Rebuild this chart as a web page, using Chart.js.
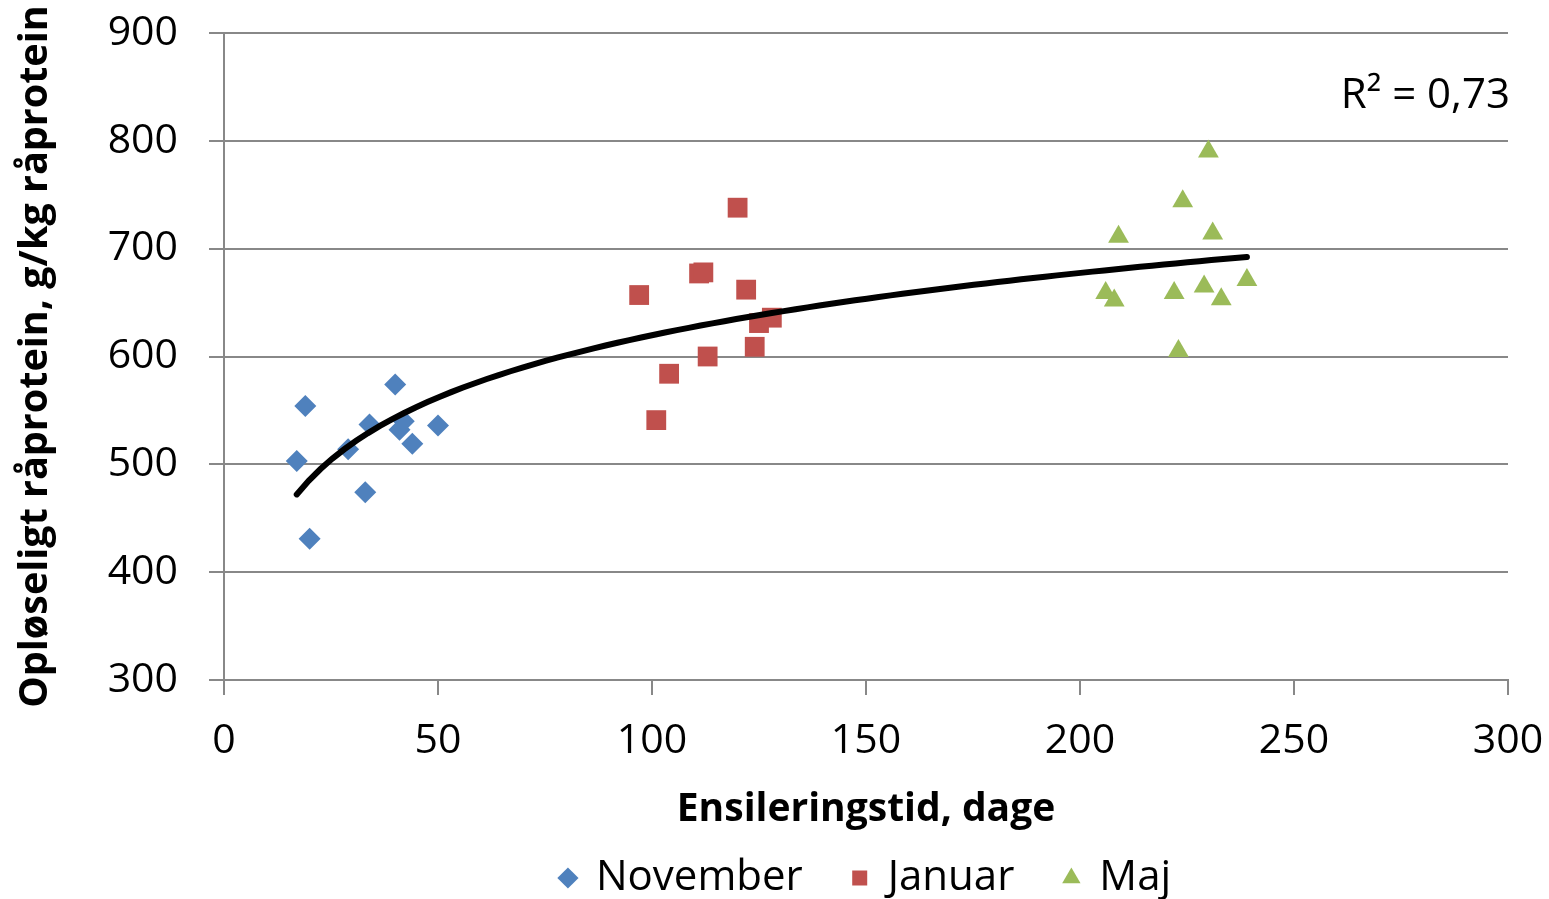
<!DOCTYPE html>
<html lang="da">
<head>
<meta charset="utf-8">
<title>Opløseligt råprotein</title>
<script src="https://cdn.jsdelivr.net/npm/chart.js@4/dist/chart.umd.min.js"></script>
<style>
  html, body { margin: 0; padding: 0; background: #fff; }
  #wrap { width: 1549px; height: 899px; }
</style>
</head>
<body>
<div id="wrap"><canvas id="myChart" width="1549" height="899"></canvas></div>
<script>
// data
const novDays   = [17, 19, 20, 29, 33, 34, 40, 41, 42, 44, 50];
const novValues = [503, 554, 431, 514, 474, 537, 574, 532, 540, 519, 536];

const janDays   = [97, 101, 104, 111, 112, 113, 120, 122, 124, 125, 128];
const janValues = [657, 541, 584, 677, 678, 600, 738, 662, 609, 631, 636];

const majDays   = [206, 208, 209, 222, 223, 224, 229, 230, 231, 233, 239];
const majValues = [659, 652, 711, 659, 605, 744, 665, 790, 714, 653, 671];

const seriesNames = ['November', 'Januar', 'Maj'];
const xTitle = 'Ensileringstid, dage';
const yTitle = 'Opløseligt råprotein, g/kg råprotein';
const r2Label = 'R² = 0,73';

const FONT = "'Open Sans', 'Noto Sans', sans-serif";
const LEGEND_HEIGHT = 92;

function toPoints(xs, ys) {
    return xs.map((x, i) => ({ x: x, y: ys[i] }));
}

// logarithmic trendline (least squares on ln x), like the spreadsheet's
const allDays = novDays.concat(janDays, majDays);
const allValues = novValues.concat(janValues, majValues);
const lnX = allDays.map(d => Math.log(d));
const n = lnX.length;
const mx = lnX.reduce((a, b) => a + b, 0) / n;
const my = allValues.reduce((a, b) => a + b, 0) / n;
let sxy = 0, sxx = 0;
for (let i = 0; i < n; i++) {
    sxy += (lnX[i] - mx) * (allValues[i] - my);
    sxx += (lnX[i] - mx) * (lnX[i] - mx);
}
const slope = sxy / sxx;
const intercept = my - slope * mx;
const minDay = Math.min(...allDays);
const maxDay = Math.max(...allDays);
const trendPoints = [];
for (let i = 0; i <= 80; i++) {
    const d = minDay + (maxDay - minDay) * i / 80;
    trendPoints.push({ x: d, y: intercept + slope * Math.log(d) });
}

const legendHeightPlugin = {
    id: 'legendHeight',
    beforeLayout(chart) {
        const lg = chart.legend;
        if (lg && !lg._fixedFit) {
            const fit = lg.fit;
            lg.fit = function () {
                fit.call(this);
                this.height = LEGEND_HEIGHT;
            };
            lg._fixedFit = true;
        }
    }
};

const r2Plugin = {
    id: 'r2text',
    afterDraw(chart) {
        const ctx = chart.ctx;
        ctx.save();
        ctx.font = "42px " + FONT;
        ctx.fillStyle = '#000';
        ctx.textAlign = 'right';
        ctx.textBaseline = 'alphabetic';
        ctx.fillText(r2Label, chart.chartArea.right + 2, 108);
        ctx.restore();
    }
};

const ctx = document.getElementById('myChart').getContext('2d');
new Chart(ctx, {
    type: 'scatter',
    data: {
        datasets: [
            {
                label: seriesNames[0],
                data: toPoints(novDays, novValues),
                pointStyle: 'rectRot',
                pointRadius: 11,
                pointHoverRadius: 11,
                backgroundColor: '#4F81BD',
                borderColor: '#4F81BD',
                borderWidth: 0,
                order: 1
            },
            {
                label: seriesNames[1],
                data: toPoints(janDays, janValues),
                pointStyle: 'rect',
                pointRadius: 14,
                pointHoverRadius: 14,
                backgroundColor: '#C0504D',
                borderColor: '#C0504D',
                borderWidth: 0,
                order: 1
            },
            {
                label: seriesNames[2],
                data: toPoints(majDays, majValues),
                pointStyle: 'triangle',
                pointRadius: 12,
                pointHoverRadius: 12,
                backgroundColor: '#9BBB59',
                borderColor: '#9BBB59',
                borderWidth: 0,
                order: 1
            },
            {
                label: 'trend',
                data: trendPoints,
                showLine: true,
                pointRadius: 0,
                borderColor: '#000',
                borderWidth: 6,
                borderCapStyle: 'round',
                fill: false,
                order: 0
            }
        ]
    },
    options: {
        responsive: false,
        animation: false,
        layout: { padding: { top: 33, right: 41, left: 0, bottom: 0 } },
        plugins: {
            tooltip: { enabled: false },
            legend: {
                position: 'bottom',
                fullSize: false,
                labels: {
                    usePointStyle: true,
                    boxWidth: 14,
                    boxHeight: 15,
                    padding: 50,
                    color: '#000',
                    font: { family: FONT, size: 42 },
                    filter: item => item.text !== 'trend'
                }
            }
        },
        scales: {
            x: {
                type: 'linear',
                min: 0,
                max: 300,
                ticks: {
                    stepSize: 50,
                    padding: 22,
                    color: '#000',
                    font: { family: FONT, size: 41 }
                },
                grid: {
                    drawOnChartArea: false,
                    drawTicks: true,
                    tickLength: 15,
                    color: '#888888',
                    lineWidth: 2
                },
                border: { display: true, color: '#888888', width: 2 },
                title: {
                    display: true,
                    text: xTitle,
                    color: '#000',
                    font: { family: FONT, size: 39, weight: 'bold' },
                    padding: { top: 0, bottom: -26.4 }
                },
                afterFit(scale) {
                    scale.height = 899 - LEGEND_HEIGHT - 680;
                    scale.paddingLeft = 0;
                    scale.paddingRight = 0;
                }
            },
            y: {
                type: 'linear',
                min: 300,
                max: 900,
                ticks: {
                    stepSize: 100,
                    padding: 31,
                    color: '#000',
                    font: { family: FONT, size: 41 }
                },
                grid: {
                    drawTicks: true,
                    tickLength: 15,
                    color: '#888888',
                    lineWidth: 2
                },
                border: { display: true, color: '#888888', width: 2 },
                title: {
                    display: true,
                    text: yTitle,
                    color: '#000',
                    font: { family: FONT, size: 39.5, weight: 'bold' },
                    padding: { top: 12, bottom: 0 }
                },
                afterFit(scale) {
                    scale.width = 224;
                    scale.paddingTop = 0;
                    scale.paddingBottom = 0;
                }
            }
        }
    },
    plugins: [legendHeightPlugin, r2Plugin]
});
</script>
</body>
</html>
